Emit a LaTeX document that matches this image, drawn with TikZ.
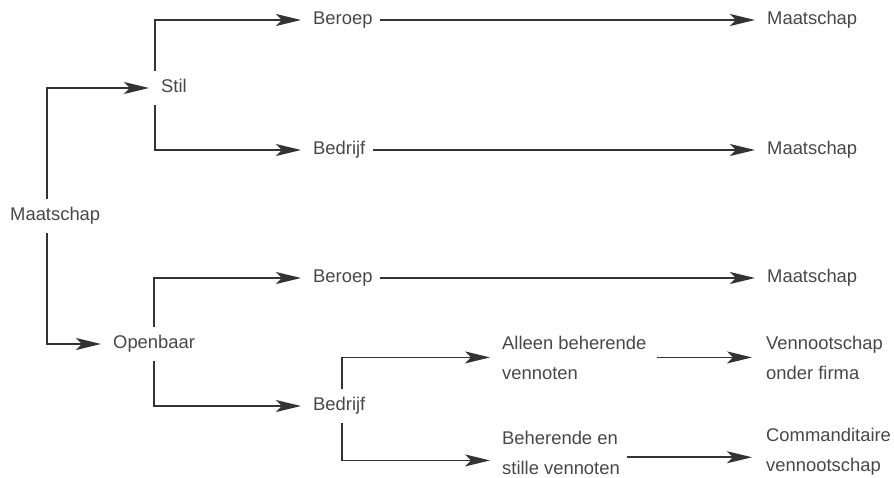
\documentclass[tikz,border=0pt]{standalone}
\usepackage{fontspec}
\setmainfont{Liberation Sans}
\usetikzlibrary{positioning,calc,arrows.meta}
\definecolor{linegray}{HTML}{333333}
\definecolor{textgray}{HTML}{484848}

\begin{document}
\begin{tikzpicture}[x=1pt,y=-1pt,%
      every node/.style={inner sep=0pt,anchor=base west,text=textgray,%
        font=\fontsize{18.4}{30}\selectfont},%
      lbl/.style={text height=13pt,text depth=5pt},%
      twoline/.style={align=left},%
      arr/.style={draw=linegray,line width=1.7pt,shorten <=8pt,shorten >=12pt,%
        -{Stealth[length=25pt,width=12pt,inset=6pt]}}]
      \useasboundingbox[fill=white] (0,0) rectangle (894,477);

      % % Nodes
      \node[lbl] (maatschap) at (10,220) {Maatschap};
      \node[lbl] (stil) at (161,92) {Stil};
      \node[lbl] (openbaar) at (113,348) {Openbaar};
      \node[lbl] (beroepS) at (313,24) {Beroep};
      \node[lbl] (bedrijfS) at (313,154) {Bedrijf};
      \node[lbl] (beroepO) at (313,282) {Beroep};
      \node[lbl] (bedrijfO) at (313,410) {Bedrijf};
      \node[lbl] (maatBS) at (767,24) {Maatschap};
      \node[lbl] (maatDS) at (767,154) {Maatschap};
      \node[lbl] (maatBO) at (767,282) {Maatschap};
      % two-line labels sit on their last line
      \node[twoline] (alleen) at (502,379) {Alleen beherende\\vennoten};
      \node[twoline] (beherend) at (502,474) {Beherende en\\stille vennoten};
      \node[twoline] (vof) at (766,379) {Vennootschap\\onder firma};
      \node[twoline] (cv) at (766,471) {Commanditaire\\vennootschap};

      % % Maatschap splits
      \draw[arr] ($ (maatschap.north west) + (37,0) $) |- (stil.west);
      \draw[arr] ($ (maatschap.south west) + (37,0) $) |- (openbaar.west);

      % % Stil
      \draw[arr] ($ (stil.north west) + (-6,0) $) |- (beroepS.west);
      \draw[arr] ($ (stil.south west) + (-6,0) $) |- (bedrijfS.west);
      \draw[arr,shorten <=7pt] (beroepS.east) -- (maatBS.west);
      \draw[arr,shorten <=7pt] (bedrijfS.east) -- (maatDS.west);

      % % Openbaar
      \draw[arr] ($ (openbaar.north west) + (41,0) $) |- (beroepO.west);
      \draw[arr] ($ (openbaar.south west) + (41,0) $) |- (bedrijfO.west);
      \draw[arr,shorten <=7pt] (beroepO.east) -- (maatBO.west);

      % % Bedrijf
      \draw[arr] ($ (bedrijfO.north west) + (29,0) $) |- (alleen.west);
      \draw[arr] ($ (bedrijfO.south west) + (29,0) $) |- ($ (beherend.west) + (0,8) $);
      \draw[arr,shorten <=10pt,shorten >=14pt] (alleen.east) -- (vof.west);
      \draw[arr,shorten <=7pt,shorten >=14pt] ($ (beherend.east |- cv.west) + (0,6) $) -- ($ (cv.west) + (0,6) $);
\end{tikzpicture}
\end{document}
